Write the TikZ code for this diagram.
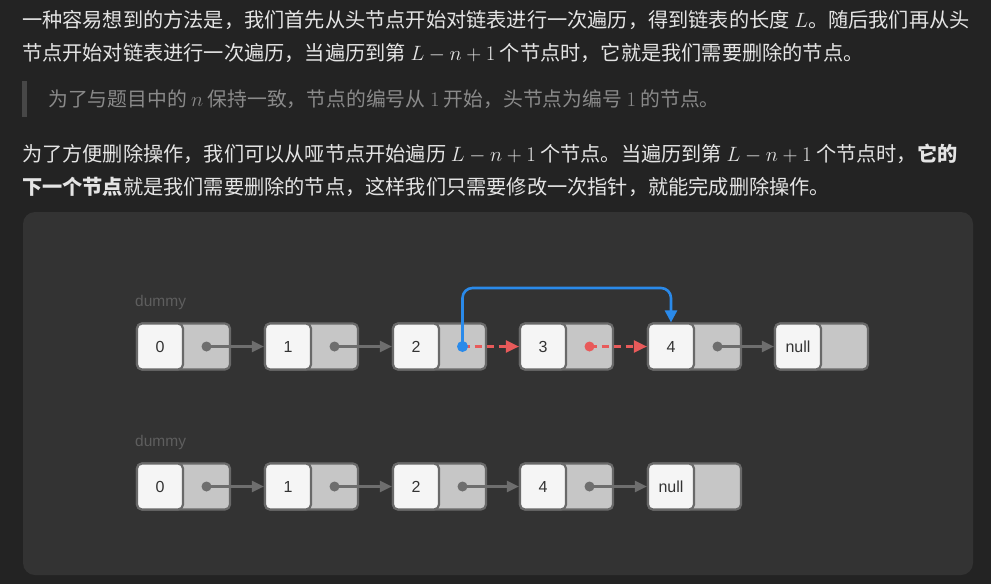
\documentclass[tikz,border=0pt]{standalone}
\usepackage{fontspec}
\setmainfont{Noto Sans CJK SC}
\newfontfamily\labfont{Liberation Sans}
\usetikzlibrary{arrows.meta,calc}
\definecolor{bgc}{HTML}{232323}
\definecolor{panelc}{HTML}{333333}
\definecolor{txtc}{HTML}{E4E4E4}
\definecolor{quotec}{HTML}{8A8A8A}
\definecolor{barc}{HTML}{474747}
\definecolor{edgec}{HTML}{696969}
\definecolor{ptrc}{HTML}{C6C6C6}
\definecolor{valc}{HTML}{F5F5F5}
\definecolor{labc}{HTML}{333333}
\definecolor{arrc}{HTML}{6E6E6E}
\definecolor{redc}{HTML}{E85A5A}
\definecolor{bluec}{HTML}{2A8AEA}
\definecolor{dumc}{HTML}{5E5E5E}
\tikzset{
  txt/.style={anchor=base west, inner sep=0pt, text=txtc, font=\fontsize{20.2}{24}\selectfont},
  quotetxt/.style={anchor=base west, inner sep=0pt, text=quotec, font=\fontsize{19.8}{24}\selectfont},
  cell/.style={draw=edgec, line width=2.2pt, rounded corners=5pt, minimum width=93pt, minimum height=46pt, fill=ptrc, inner sep=0pt},
  val/.style={draw=edgec, line width=2.2pt, rounded corners=5pt, minimum width=46pt, minimum height=46pt, fill=valc, inner sep=0pt, text=labc, font=\labfont\fontsize{16}{16}\selectfont},
  ptrdot/.style={circle, fill=#1, inner sep=0pt, minimum size=10pt},
  link/.style={draw=arrc, line width=2.2pt, -{Triangle[length=12pt,width=11pt]}},
  rlink/.style={draw=redc, line width=2.2pt, dash pattern=on 7pt off 5pt, -{Triangle[length=13pt,width=12pt]}},
  blink/.style={draw=bluec, line width=2.6pt, rounded corners=10pt, -{Triangle[length=12pt,width=12pt]}},
  dum/.style={anchor=west, inner sep=0pt, text=dumc, font=\labfont\fontsize{15.5}{16}\selectfont},
}
\begin{document}
\begin{tikzpicture}[x=1pt,y=-1pt]
\fill[bgc] (0,0) rectangle (991,584);
\useasboundingbox (0,0) rectangle (991,584);
% text
\node[txt] (l1) at (22,27) {一种容易想到的方法是，我们首先从头节点开始对链表进行一次遍历，得到链表的长度 $L$。随后我们再从头};
\node[txt] (l2) at (22,60) {节点开始对链表进行一次遍历，当遍历到第 $L-n+1$ 个节点时，它就是我们需要删除的节点。};
\fill[barc] (22,81) rectangle (27,117);
\node[quotetxt] (q1) at (48,106) {为了与题目中的 $n$ 保持一致，节点的编号从 $1$ 开始，头节点为编号 $1$ 的节点。};
\node[txt] (l4) at (22,161) {为了方便删除操作，我们可以从哑节点开始遍历 $L-n+1$ 个节点。当遍历到第 $L-n+1$ 个节点时，\textbf{它的}};
\node[txt] (l5) at (22,194) {\textbf{下一个节点}就是我们需要删除的节点，这样我们只需要修改一次指针，就能完成删除操作。};
% panel
\fill[panelc, rounded corners=12pt] (23,212) rectangle (973,575);
% row 1
\node[dum] (dm1) at (135,302) {dummy};
\foreach \i/\x/\t in {0/137/0,1/265/1,2/393/2,3/520/3,4/648/4,5/775/null}{
  \node[cell] (a\i) at (\x+46.5,346.5) {};
  \node[val] (av\i) at (\x+23,346.5) {\t};
}
\foreach \i/\x in {0/137,1/265,2/393,3/520,4/648}{
  \coordinate (p\i) at (\x+69.5,346.5);
}
\coordinate (top) at (0,288);
\draw[link] (p0) -- (av1.west);
\draw[link] (p1) -- (av2.west);
\draw[link] (p4) -- (av5.west);
\draw[rlink] (p2) -- (av3.west);
\draw[rlink] (p3) -- (av4.west);
\draw[blink] (p2) -- (p2 |- top) -- (av4.north |- top) -- (av4.north);
\node[ptrdot=arrc] (pd0) at (p0) {};
\node[ptrdot=arrc] (pd1) at (p1) {};
\node[ptrdot=arrc] (pd4) at (p4) {};
\node[ptrdot=redc] (pd3) at (p3) {};
\node[ptrdot=bluec, minimum size=11pt] (pd2) at (p2) {};
% row 2
\node[dum] (dm2) at (135,442) {dummy};
\foreach \i/\x/\t in {0/137/0,1/265/1,2/393/2,3/520/4,4/648/null}{
  \node[cell] (b\i) at (\x+46.5,486.5) {};
  \node[val] (bv\i) at (\x+23,486.5) {\t};
}
\foreach \i/\x in {0/137,1/265,2/393,3/520}{
  \coordinate (r\i) at (\x+69.5,486.5);
}
\draw[link] (r0) -- (bv1.west);
\draw[link] (r1) -- (bv2.west);
\draw[link] (r2) -- (bv3.west);
\draw[link] (r3) -- (bv4.west);
\node[ptrdot=arrc] (rd0) at (r0) {};
\node[ptrdot=arrc] (rd1) at (r1) {};
\node[ptrdot=arrc] (rd2) at (r2) {};
\node[ptrdot=arrc] (rd3) at (r3) {};
\end{tikzpicture}
\end{document}
